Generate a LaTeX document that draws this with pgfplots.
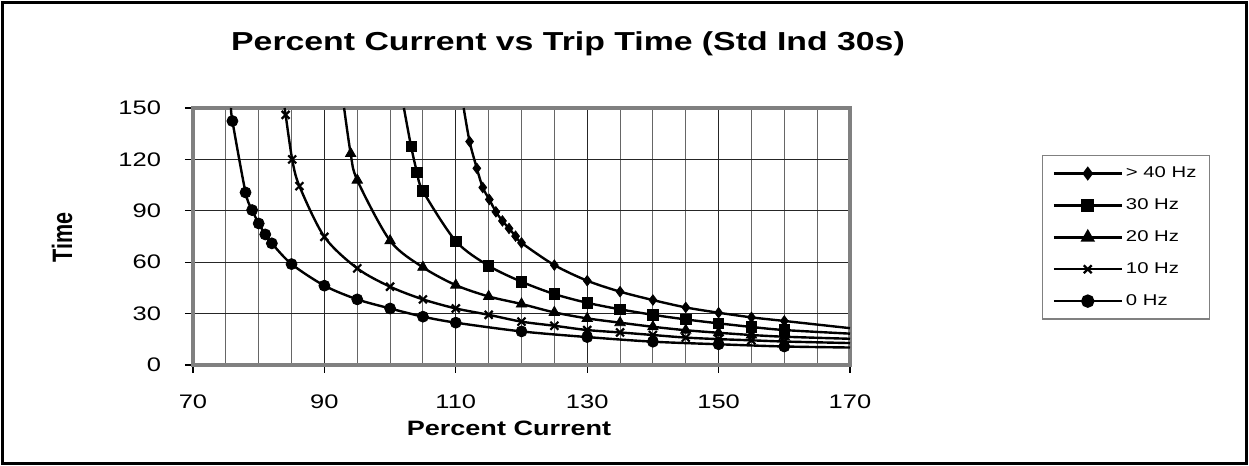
\documentclass[border=0pt]{standalone}
\usepackage{fontspec}
\setmainfont[FakeStretch=1.3]{Liberation Sans}
\newfontfamily\plainsans{Liberation Sans}
\usepackage{graphicx}
\usepackage{pgfplots}
\pgfplotsset{compat=1.18}
\begin{document}
\begin{tikzpicture}
\useasboundingbox (0,0) rectangle (624.5pt,233pt);
\draw[black, line width=1.5pt] (1.2pt,1.2pt) rectangle (623.3pt,231.8pt);
\node[font=\bfseries\fontsize{13}{15}\selectfont] at (284pt,211pt) {Percent Current vs Trip Time (Std Ind 30s)};
\begin{axis}[
  at={(96.5pt,50.5pt)}, anchor=south west,
  scale only axis, width=328.5pt, height=128.5pt,
  xmin=70, xmax=170, ymin=0, ymax=150,
  xtick={70,90,...,170}, minor xtick={75,80,...,165},
  ytick={0,30,...,150},
  grid=both,
  major grid style={black!85, line width=0.5pt},
  minor grid style={black!60, line width=0.5pt},
  axis line style={draw=black!50, line width=2.4pt},
  tick align=outside, major tick length=4pt, minor tick length=0pt,
  tick pos=left,
  tick style={black, line width=0.6pt},
  ticklabel style={font=\fontsize{9.8}{11}\selectfont},
  /pgf/number format/assume math mode=true,
  xticklabel style={yshift=-7.5pt},
  yticklabel style={xshift=-8.5pt},
  xlabel={Percent Current},
  xlabel style={font=\bfseries\fontsize{10.4}{12}\selectfont, at={(axis description cs:0.481,-0.245)}, anchor=center},
  ylabel={\scalebox{1}[1.3]{Time}},
  ylabel style={font=\plainsans\bfseries\fontsize{10.8}{12}\selectfont, at={(axis description cs:-0.1994,0.498)}, anchor=center},
  legend image code/.code={\draw[mark repeat=2,mark phase=2,#1] plot coordinates {(0pt,0pt) (17pt,0pt) (34pt,0pt)};},
  legend style={at={(1.2922,0.8171)}, anchor=north west, draw=black!50, line width=0.6pt,
    font=\fontsize{7.8}{8.5}\selectfont, row sep=6pt, inner xsep=5pt, inner ysep=4pt,
    nodes={inner sep=1.5pt}, cells={anchor=west}},
  every axis plot/.append style={black},
]
% ---- legend entries ----
\addlegendimage{black, line width=1.2pt, mark=diamond*, mark size=2.6pt}
\addlegendentry{> 40 Hz}
\addlegendimage{black, line width=1.2pt, mark=square*, mark size=2.6pt}
\addlegendentry{30 Hz}
\addlegendimage{black, line width=1.2pt, mark=triangle*, mark size=3pt}
\addlegendentry{20 Hz}
\addlegendimage{black, line width=1.2pt, mark=x, mark size=2.8pt, mark options={line width=1.1pt}}
\addlegendentry{10 Hz}
\addlegendimage{black, line width=1.2pt, mark=*, mark size=2.75pt}
\addlegendentry{0 Hz}

% ---- > 40 Hz ----
\addplot[forget plot, smooth, line width=1.2pt, no marks] coordinates {
(111.2,150) (112.1,130.4) (113.2,114.8) (114.1,103.6) (115.1,96.6) (116.1,89.4) (117.1,84.1) (118.1,79.7) (119.1,75.2) (120,71.3) (125,58.3) (130,49.2) (135,42.8) (140,37.9) (145,33.6) (150,30.5) (155,27.8) (160,25.7) (170,21.5)};
\addplot[forget plot, only marks, mark=diamond*, mark size=2.6pt] coordinates {
(112.1,130.4) (113.2,114.8) (114.1,103.6) (115.1,96.6) (116.1,89.4) (117.1,84.1) (118.1,79.7) (119.1,75.2) (120,71.3) (125,58.3) (130,49.2) (135,42.8) (140,37.9) (145,33.6) (150,30.5) (155,27.8) (160,25.7)};

% ---- 30 Hz ----
\addplot[forget plot, smooth, line width=1.2pt, no marks] coordinates {
(102.1,150) (103.2,127.5) (104.1,112.4) (105,101.5) (110,72.3) (115,57.9) (120,48.6) (125,41.4) (130,36.3) (135,32.5) (140,29.3) (145,26.6) (150,24.3) (155,22.2) (160,20.4) (170,18.3)};
\addplot[forget plot, only marks, mark=square*, mark size=2.6pt] coordinates {
(103.2,127.5) (104.1,112.4) (105,101.5) (110,72.3) (115,57.9) (120,48.6) (125,41.4) (130,36.3) (135,32.5) (140,29.3) (145,26.6) (150,24.3) (155,22.2) (160,20.4)};

% ---- 20 Hz ----
\addplot[forget plot, smooth, line width=1.2pt, no marks] coordinates {
(93.0,150) (94,123.4) (95,107.9) (100,72.5) (105,57) (110,46.6) (115,40) (120,35.6) (125,30.7) (130,27.2) (135,24.7) (140,22.3) (145,20.3) (150,18.8) (155,17.5) (160,16.5) (170,15.3)};
\addplot[forget plot, only marks, mark=triangle*, mark size=3pt] coordinates {
(94,123.4) (95,107.9) (100,72.5) (105,57) (110,46.6) (115,40) (120,35.6) (125,30.7) (130,27.2) (135,24.7) (140,22.3) (145,20.3) (150,18.8) (155,17.5) (160,16.5)};

% ---- 10 Hz ----
\addplot[forget plot, smooth, line width=1.2pt, no marks] coordinates {
(83.95,150) (84.1,146) (85.1,120) (86.2,104.4) (90,74.8) (95,56.4) (100,45.7) (105,38.3) (110,33) (115,29.3) (120,25.3) (125,22.9) (130,20.4) (135,19) (140,17.5) (145,16) (150,15.1) (155,14.4) (160,13.7) (170,12.8)};
\addplot[forget plot, only marks, mark=x, mark size=2.8pt, mark options={line width=1.1pt}] coordinates {
(84.1,146) (85.1,120) (86.2,104.4) (90,74.8) (95,56.4) (100,45.7) (105,38.3) (110,33) (115,29.3) (120,25.3) (125,22.9) (130,20.4) (135,19) (140,17.5) (145,16) (150,15.1) (155,14.4) (160,13.7)};

% ---- 0 Hz ----
\addplot[forget plot, smooth, line width=1.2pt, no marks] coordinates {
(75.8,150) (76,142.4) (78,100.7) (79,90.4) (80,82.6) (81,76.2) (82,71) (85,58.9) (90,46.3) (95,38.3) (100,33) (105,28.2) (110,24.7) (120,19.6) (130,16.3) (140,13.6) (150,12.1) (160,10.8) (170,10.2)};
\addplot[forget plot, only marks, mark=*, mark size=2.75pt] coordinates {
(76,142.4) (78,100.7) (79,90.4) (80,82.6) (81,76.2) (82,71) (85,58.9) (90,46.3) (95,38.3) (100,33) (105,28.2) (110,24.7) (120,19.6) (130,16.3) (140,13.6) (150,12.1) (160,10.8)};
\end{axis}
\end{tikzpicture}
\end{document}
